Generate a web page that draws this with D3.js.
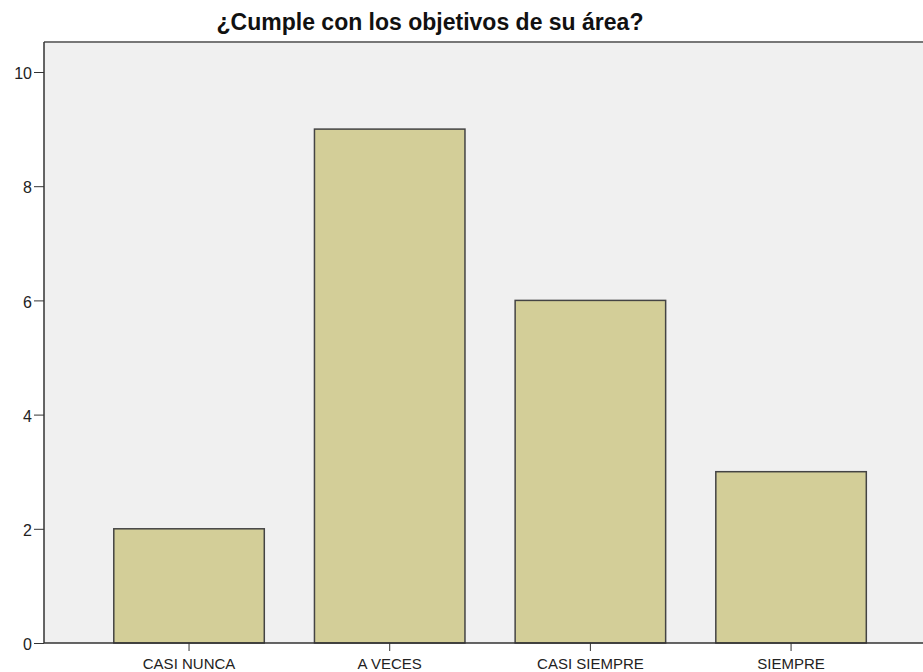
<!DOCTYPE html>
<html>
<head>
<meta charset="utf-8">
<script src="https://cdn.jsdelivr.net/npm/d3@7"></script>
<style>
  body { margin: 0; background: #fff; }
  text { font-family: "Liberation Sans", Arial, sans-serif; }
</style>
</head>
<body>
<svg id="chart"></svg>
<script>
const categories = ["CASI NUNCA", "A VECES", "CASI SIEMPRE", "SIEMPRE"];
const counts = [2, 9, 6, 3];
const yTicks = [0, 2, 4, 6, 8, 10];
const title = "¿Cumple con los objetivos de su área?";

const width = 923;
const height = 672;

let svg = d3.select("#chart")
    .attr("width", width)
    .attr("height", height);

// plot frame
const plotLeft = 44, plotRight = 923, plotTop = 42, plotBottom = 643;

svg.append("rect")
    .attr("x", plotLeft)
    .attr("y", plotTop)
    .attr("width", plotRight - plotLeft)
    .attr("height", plotBottom - plotTop)
    .attr("fill", "#f0f0f0");

svg.append("line")
    .attr("x1", plotLeft).attr("x2", plotRight)
    .attr("y1", plotTop).attr("y2", plotTop)
    .attr("stroke", "#777")
    .attr("stroke-width", 2);

let xScale = d3.scaleBand()
    .domain(categories)
    .range([88.7, 891.4])
    .paddingInner(0.25)
    .paddingOuter(0.125);

let yScale = d3.scaleLinear()
    .domain([0, 10])
    .range([plotBottom, 72]);

// bars
svg.selectAll("rect.bar")
    .data(categories)
    .join("rect")
    .attr("class", "bar")
    .attr("x", d => xScale(d))
    .attr("y", (d, i) => yScale(counts[i]))
    .attr("width", xScale.bandwidth())
    .attr("height", (d, i) => yScale(0) - yScale(counts[i]))
    .attr("fill", "#d3ce98")
    .attr("stroke", "#444")
    .attr("stroke-width", 1.5);

// axes
let yAxis = d3.axisLeft(yScale)
    .tickValues(yTicks)
    .tickSize(10)
    .tickPadding(2);
let gy = svg.append("g")
    .attr("transform", "translate(" + plotLeft + ",0)")
    .call(yAxis);
gy.select(".domain").attr("stroke", "#333").attr("stroke-width", 1.5)
    .attr("d", "M0," + plotTop + "V" + plotBottom);
gy.selectAll(".tick line").attr("stroke", "#333");
gy.selectAll(".tick text").attr("font-size", 16).attr("fill", "#222")
    .attr("dy", "0.42em");

let xAxis = d3.axisBottom(xScale)
    .tickSize(8)
    .tickPadding(7);
let gx = svg.append("g")
    .attr("transform", "translate(0," + plotBottom + ")")
    .call(xAxis);
gx.select(".domain").attr("stroke", "#333").attr("stroke-width", 1.5)
    .attr("d", "M" + plotLeft + ",0H" + plotRight);
gx.selectAll(".tick line").attr("stroke", "#333");
gx.selectAll(".tick text").attr("font-size", 15).attr("fill", "#222");

// title
svg.append("text")
    .attr("x", 430)
    .attr("y", 30)
    .attr("text-anchor", "middle")
    .attr("font-size", 23)
    .attr("font-weight", "bold")
    .attr("fill", "#111")
    .text(title);
</script>
</body>
</html>
